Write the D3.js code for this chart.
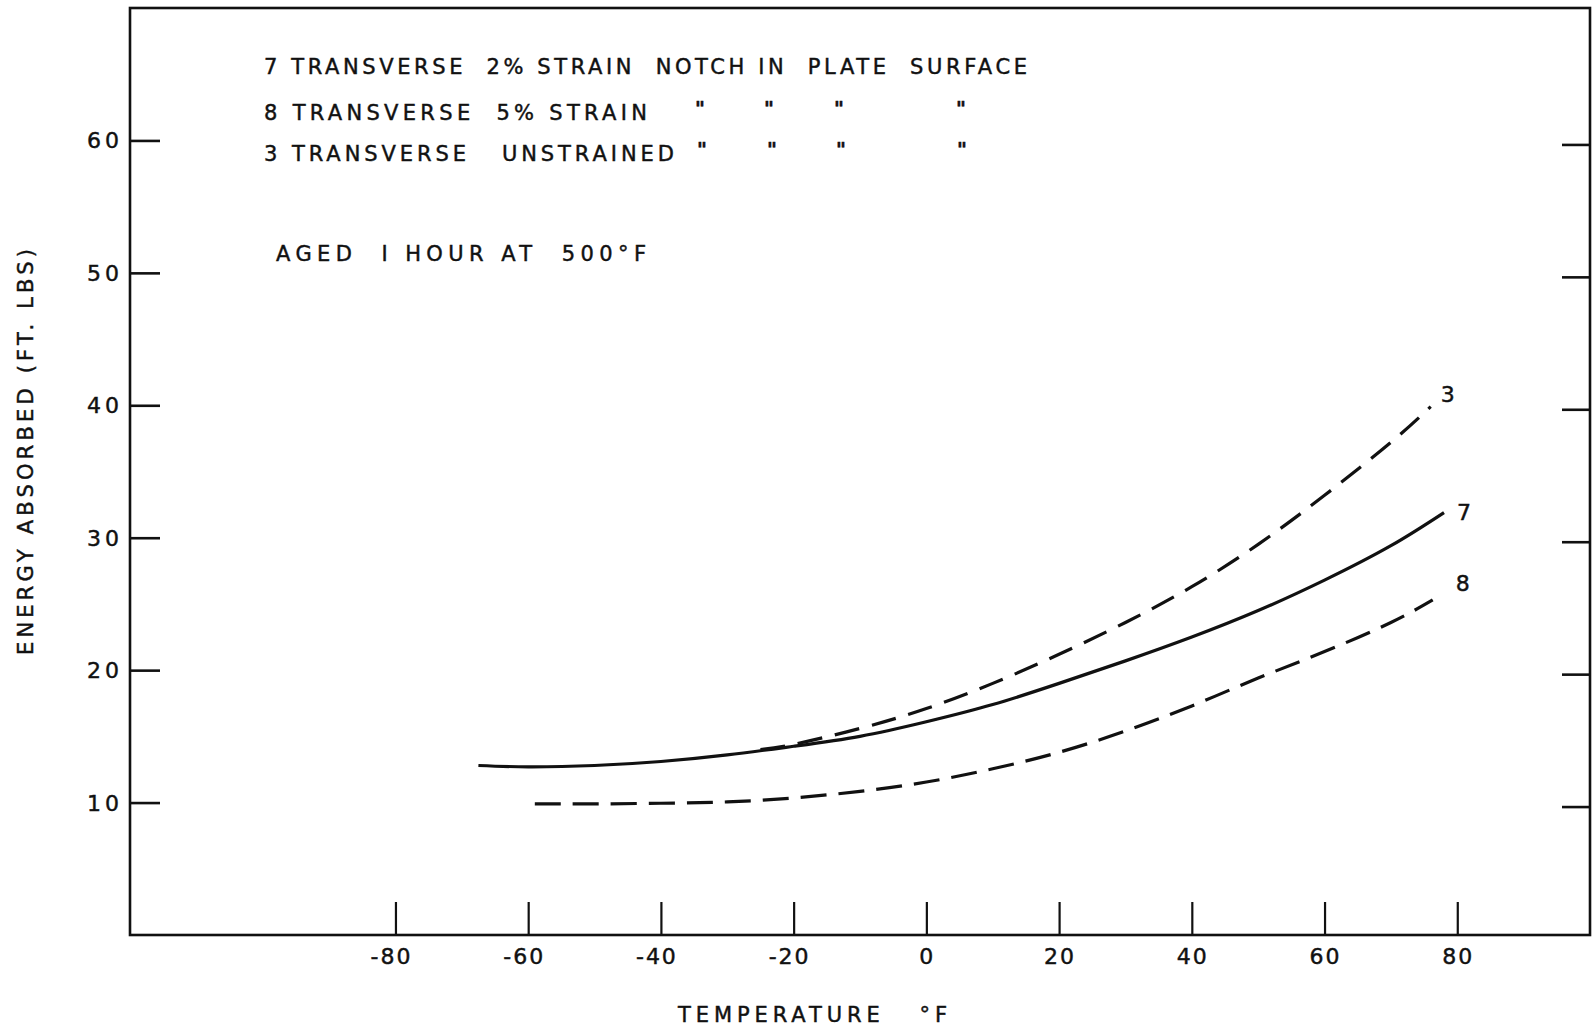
<!DOCTYPE html>
<html>
<head>
<meta charset="utf-8">
<script src="https://cdn.jsdelivr.net/npm/d3@7/dist/d3.min.js"></script>
<style>
  html, body { margin: 0; padding: 0; background: #fff; overflow: hidden; }
  svg { display: block; }
  text { font-family: "DejaVu Sans", "Liberation Sans", sans-serif; fill: #111; stroke: #111; stroke-width: 0.45; white-space: pre; }
</style>
</head>
<body>
<svg id="chart" width="1592" height="1029"></svg>
<script>
// ---------------- DATA ----------------
const xTicks = [-80, -60, -40, -20, 0, 20, 40, 60, 80];
const yTicks = [10, 20, 30, 40, 50, 60];
const xDomain = [-120, 100];
const yDomain = [0, 70];

// Curve 7: transverse 2% strain (solid)
const temps7  = [-67.5, -60, -50, -40, -30, -20, -10, 0, 10, 20, 30, 40, 50, 60, 70, 78];
const energy7 = [12.8, 12.7, 12.8, 13.1, 13.6, 14.25, 15.0, 16.1, 17.4, 19.0, 20.7, 22.5, 24.5, 26.8, 29.4, 31.9];

// Curve 3: transverse unstrained (dashed, upper)
const temps3  = [-25, -20, -10, 0, 10, 20, 30, 40, 50, 60, 70, 76];
const energy3 = [14.0, 14.4, 15.6, 17.1, 19.0, 21.2, 23.6, 26.3, 29.5, 33.2, 37.2, 39.9];

// Curve 8: transverse 5% strain (dashed, lower)
const temps8  = [-59, -50, -40, -30, -20, -10, 0, 10, 20, 30, 40, 50, 60, 70, 76.3];
const energy8 = [9.9, 9.9, 9.95, 10.05, 10.35, 10.85, 11.55, 12.55, 13.8, 15.4, 17.3, 19.4, 21.4, 23.6, 25.3];

const curveIds = ["3", "7", "8"];

const legendLine1 = "7 TRANSVERSE  2% STRAIN  NOTCH IN  PLATE  SURFACE";
const legendLine2 = "8 TRANSVERSE  5% STRAIN";
const legendLine3 = "3 TRANSVERSE   UNSTRAINED";
const dittoMark = "\"";
const noteText = "AGED  I HOUR AT  500°F";
const xTitle = "TEMPERATURE   °F";
const yTitle = "ENERGY ABSORBED (FT. LBS)";

// ---------------- LAYOUT ----------------
const svg = d3.select("#chart");
const x = d3.scaleLinear().domain(xDomain).range([130, 1590]);
const y = d3.scaleLinear().domain(yDomain).range([935, 8]);
const ink = "#111";

// frame
svg.append("rect")
  .attr("x", x(xDomain[0])).attr("y", y(yDomain[1]))
  .attr("width", x(xDomain[1]) - x(xDomain[0]))
  .attr("height", y(yDomain[0]) - y(yDomain[1]))
  .attr("fill", "none").attr("stroke", ink).attr("stroke-width", 2.6);

// left axis ticks (inward) + labels
const leftAxis = d3.axisRight(y).tickValues(yTicks).tickSize(30).tickFormat("");
const gL = svg.append("g").attr("transform", `translate(${x(xDomain[0])},0)`).call(leftAxis);
gL.select(".domain").remove();
gL.selectAll(".tick line").attr("stroke", ink).attr("stroke-width", 2.6);

svg.append("g").selectAll("text").data(yTicks).join("text")
  .attr("x", 87).attr("y", d => y(d) + 8)
  .attr("font-size", 22)
  .attr("textLength", 32).attr("lengthAdjust", "spacing")
  .text(d => d);

// right axis ticks (inward)
const rightAxis = d3.axisLeft(y).tickValues(yTicks).tickSize(28).tickFormat("");
const gR = svg.append("g").attr("transform", `translate(${x(xDomain[1])},4)`).call(rightAxis);
gR.select(".domain").remove();
gR.selectAll(".tick line").attr("stroke", ink).attr("stroke-width", 2.6);

// bottom ticks (inward, upward) + labels
const bottomAxis = d3.axisTop(x).tickValues(xTicks).tickSize(33).tickFormat("");
const gB = svg.append("g").attr("transform", `translate(0,${y(0)})`).call(bottomAxis);
gB.select(".domain").remove();
gB.selectAll(".tick line").attr("stroke", ink).attr("stroke-width", 2.2);

svg.append("g").selectAll("text").data(xTicks).join("text")
  .attr("x", d => x(d) + (d < 0 ? -4 : 1)).attr("y", 964)
  .attr("text-anchor", "middle")
  .attr("font-size", 22).attr("letter-spacing", 2)
  .text(d => d < 0 ? "-" + Math.abs(d) : String(d));

// axis titles
svg.append("text")
  .attr("x", 678).attr("y", 1022)
  .attr("font-size", 21)
  .attr("textLength", 269).attr("lengthAdjust", "spacing")
  .text(xTitle);

svg.append("text")
  .attr("transform", "translate(33,655) rotate(-90)")
  .attr("x", 0).attr("y", 0)
  .attr("font-size", 21)
  .attr("textLength", 406).attr("lengthAdjust", "spacing")
  .text(yTitle);

// curves
const line = d3.line().x(d => x(d[0])).y(d => y(d[1])).curve(d3.curveNatural);
const series = [
  { id: curveIds[1], pts: d3.zip(temps7, energy7), dash: null },
  { id: curveIds[0], pts: d3.zip(temps3, energy3), dash: "25,13" },
  { id: curveIds[2], pts: d3.zip(temps8, energy8), dash: "26,12" }
];
svg.append("g").selectAll("path").data(series).join("path")
  .attr("d", d => line(d.pts))
  .attr("fill", "none").attr("stroke", ink).attr("stroke-width", 3.2)
  .attr("stroke-linecap", "butt")
  .attr("stroke-dasharray", d => d.dash);

// curve labels at end of each curve
const labelOffsets = { "3": [17, -5], "7": [20, 7], "8": [30, -9] };
svg.append("g").selectAll("text").data(series).join("text")
  .attr("x", d => x(d.pts[d.pts.length - 1][0]) + labelOffsets[d.id][0])
  .attr("y", d => y(d.pts[d.pts.length - 1][1]) + labelOffsets[d.id][1])
  .attr("font-size", 22).attr("text-anchor", "middle")
  .text(d => d.id);

// legend block
const lg = svg.append("g").attr("font-size", 21);
lg.append("text").attr("x", 264).attr("y", 74)
  .attr("textLength", 763).attr("lengthAdjust", "spacing").text(legendLine1);
lg.append("text").attr("x", 264).attr("y", 120)
  .attr("textLength", 383).attr("lengthAdjust", "spacing").text(legendLine2);
lg.append("text").attr("x", 264).attr("y", 161)
  .attr("textLength", 410).attr("lengthAdjust", "spacing").text(legendLine3);

const dittoCols2 = [700, 769, 839, 961];
const dittoCols3 = [702, 772, 841, 962];
lg.append("g").selectAll("text").data(dittoCols2).join("text")
  .attr("x", d => d).attr("y", 115).attr("font-size", 19).attr("font-weight", "bold")
  .attr("text-anchor", "middle").text(dittoMark);
lg.append("g").selectAll("text").data(dittoCols3).join("text")
  .attr("x", d => d).attr("y", 156).attr("font-size", 19).attr("font-weight", "bold")
  .attr("text-anchor", "middle").text(dittoMark);

lg.append("text").attr("x", 276).attr("y", 261)
  .attr("textLength", 370).attr("lengthAdjust", "spacing").text(noteText);
</script>
</body>
</html>
